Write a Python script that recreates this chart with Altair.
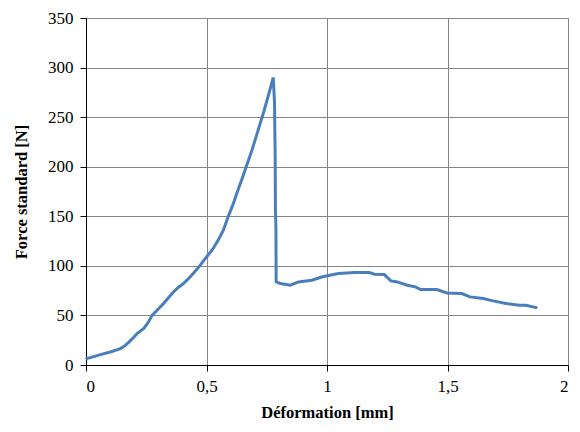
import altair as alt
import pandas as pd

deformation = [0.0, 0.005, 0.022, 0.06, 0.104, 0.125, 0.145, 0.162, 0.179, 0.196, 0.213,
               0.240, 0.258, 0.275, 0.300, 0.322, 0.343, 0.363, 0.384, 0.404, 0.425,
               0.445, 0.472, 0.5, 0.525, 0.548, 0.570, 0.589, 0.610, 0.630, 0.648,
               0.664, 0.685, 0.705, 0.722, 0.739, 0.758, 0.777,
               0.782, 0.785, 0.786, 0.788, 0.789, 0.807, 0.848, 0.882, 0.937, 0.978,
               1.047, 1.115, 1.176, 1.197, 1.238, 1.265, 1.292, 1.333, 1.367, 1.388,
               1.456, 1.497, 1.559, 1.593, 1.648, 1.689, 1.743, 1.798, 1.825, 1.873]
force = [5.5, 6.8, 7.7, 10.5, 13.4, 15.0, 16.8, 19.5, 23.4, 27.5, 31.9,
         36.9, 43.0, 50.3, 56.5, 62.0, 68.0, 73.7, 78.5, 82.1, 87.0,
         92.2, 100.0, 109.0, 116.5, 125.7, 136.0, 149.0, 162.0, 176.0, 188.0,
         199.4, 214.0, 229.6, 243.0, 256.5, 273.0, 290.0,
         266.0, 210.0, 156.0, 139.0, 84.0, 82.1, 80.5, 83.8, 85.5, 88.8,
         92.2, 93.2, 93.2, 91.5, 91.2, 84.8, 83.8, 80.5, 78.8, 76.1,
         76.1, 72.7, 72.1, 68.7, 67.0, 64.7, 62.0, 60.3, 60.3, 57.6]

df = pd.DataFrame({"x": deformation, "y": force, "i": list(range(len(force)))})

font = "Liberation Serif"
common = dict(labelFont=font, labelFontSize=17, labelColor="#000000",
              titleFont=font, titleFontSize=16.5, titleFontWeight="bold",
              titleColor="#000000", gridColor="#868686", gridWidth=1,
              domainColor="#000000", tickColor="#000000", tickSize=6)

chart = alt.Chart(df).mark_line(color="#4a7ebb", strokeWidth=3).encode(
    x=alt.X("x:Q", scale=alt.Scale(domain=[0, 2], nice=False),
            axis=alt.Axis(title="Déformation [mm]", values=[0, 0.5, 1, 1.5, 2],
                          labelExpr="replace(format(datum.value, ''), '.', ',')",
                          labelPadding=7, titlePadding=10, **common)),
    y=alt.Y("y:Q", scale=alt.Scale(domain=[0, 350], nice=False),
            axis=alt.Axis(title="Force standard [N]", values=list(range(0, 351, 50)),
                          labelPadding=7, titlePadding=18, **common)),
    order="i:Q",
).properties(
    width=482, height=347,
    autosize=alt.AutoSizeParams(type="none"),
    padding={"left": 78, "top": 10, "right": 4, "bottom": 59},
).configure_view(stroke="#868686")

chart.save("out.html", embed_options={"renderer": "svg", "actions": False})
